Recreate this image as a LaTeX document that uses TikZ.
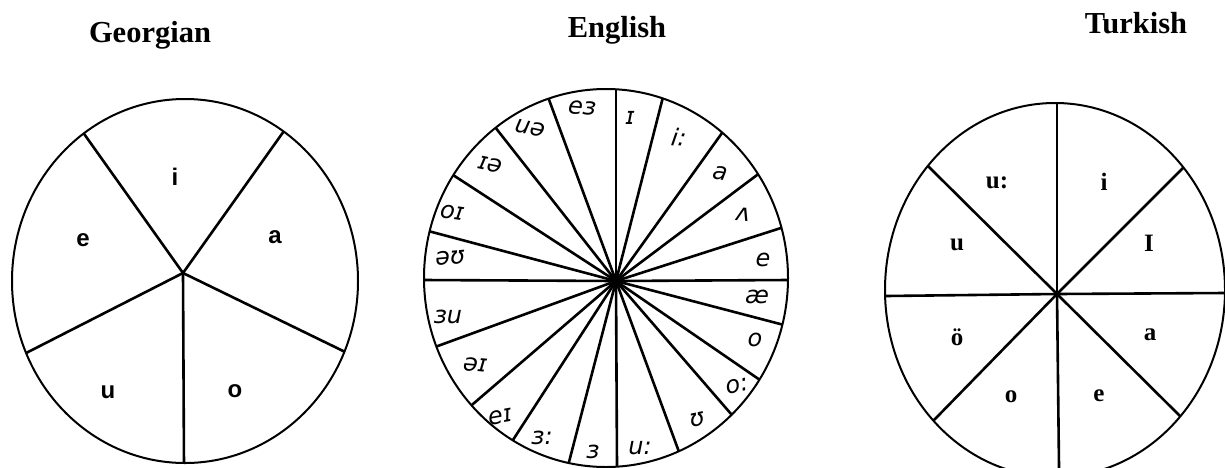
\documentclass[tikz,border=0pt]{standalone}
\usepackage{fontspec}
\setmainfont{Liberation Serif}
\newfontfamily\geofont{Liberation Sans}
\newfontfamily\handfont{DejaVu Sans}
\usetikzlibrary{calc}

\begin{document}
\begin{tikzpicture}[x=1pt, y=1pt,
    ring/.style={line width=2pt},
    spoke/.style={line width=2.6pt},
    ttl/.style={font=\fontsize{30.5}{34}\selectfont\bfseries, inner sep=0pt, anchor=base},
    geo/.style={font=\geofont\bfseries\fontsize{24}{28}\selectfont, inner sep=0pt},
    trk/.style={font=\bfseries\fontsize{25}{29}\selectfont, inner sep=0pt},
    eng/.style={font=\handfont\itshape\fontsize{24}{28}\selectfont, inner sep=0pt}
]
\useasboundingbox (0,0) rectangle (1225,-467);

% titles
\node[ttl] (tgeo) at (150,-42) {Georgian};
\node[ttl] (teng) at (617,-37) {English};
\node[ttl] (ttur) at (1136,-33) {Turkish};

% Georgian
\coordinate (ghub) at (183,-273);
\begin{scope}
\clip (185,-281) ellipse [x radius=173pt, y radius=182pt];
\foreach \x/\y in {87/138, 279/138, 337/348, 184/467, 32/350}
  \draw[spoke] (ghub) -- ($(ghub)!1.3!(\x,-\y)$);
\end{scope}
\draw[ring] (185,-281) ellipse [x radius=173pt, y radius=182pt];
\node[geo] (gi) at (175,-177) {i};
\node[geo] (ga) at (275,-237) {a};
\node[geo] (ge) at (83,-240) {e};
\node[geo] (gu) at (108,-392) {u};
\node[geo] (go) at (235,-391) {o};

% English
\coordinate (ehub) at (616,-281);
\begin{scope}
\clip (606,-278) ellipse [x radius=182pt, y radius=189pt];
\foreach \x/\y in {616/87, 663/97, 722/133, 757/175, 784/227, 788/280,
    784/325, 760/380, 738/422, 682/460, 617/467, 569/462, 511/443,
    473/404, 435/347, 424/280, 432/232, 453/175, 495/127, 548/97}
  \draw[spoke] (ehub) -- ($(ehub)!1.3!(\x,-\y)$);
\end{scope}
\draw[ring] (606,-278) ellipse [x radius=182pt, y radius=189pt];
\node[eng, rotate=-5] (eea) at (582,-108) {eɜ};
\node[eng] (eshi) at (630,-118) {ɪ};
\node[eng, rotate=-8] (elongi) at (679,-137) {i:};
\node[eng, rotate=-10] (ea) at (720,-173) {a};
\node[eng, rotate=-5] (ewedge) at (743,-215) {ʌ};
\node[eng] (ee) at (763,-260) {e};
\node[eng] (eash) at (757,-297) {æ};
\node[eng] (eo) at (755,-340) {o};
\node[eng, rotate=12] (elongo) at (737,-386) {o:};
\node[eng, rotate=12] (eshu) at (697,-420) {ʊ};
\node[eng] (elongu) at (640,-448) {u:};
\node[eng] (eschwa) at (593,-452) {ɜ};
\node[eng] (elongschwa) at (542,-438) {ɜ:};
\node[eng, rotate=10] (eei) at (500,-417) {eɪ};
\node[eng, rotate=-5] (eai) at (475,-365) {əɪ};
\node[eng] (eou) at (448,-317) {ɜu};
\node[eng, rotate=5] (eau) at (450,-258) {əʊ};
\node[eng, rotate=-8] (eoi) at (452,-213) {oɪ};
\node[eng, rotate=-12] (eia) at (490,-165) {ɪə};
\node[eng, rotate=-12] (eua) at (530,-128) {uə};

% Turkish
\coordinate (thub) at (1057,-294);
\begin{scope}
\clip (1055,-290) ellipse [x radius=170pt, y radius=187pt];
\foreach \x/\y in {1057/103, 1183/168, 1225/293, 1181/417, 1059/467,
    936/418, 886/296, 933/171}
  \draw[spoke] (thub) -- ($(thub)!1.3!(\x,-\y)$);
\end{scope}
\draw[ring] (1055,-290) ellipse [x radius=170pt, y radius=187pt];
\node[trk] (tuu) at (997,-183) {u:};
\node[trk] (ti) at (1104,-182) {i};
\node[trk] (tu) at (957,-245) {u};
\node[trk] (tbari) at (1149,-243) {I};
\node[trk] (toe) at (957,-337) {ö};
\node[trk] (ta) at (1150,-335) {a};
\node[trk] (to) at (1011,-397) {o};
\node[trk] (te) at (1099,-396) {e};
\end{tikzpicture}
\end{document}
